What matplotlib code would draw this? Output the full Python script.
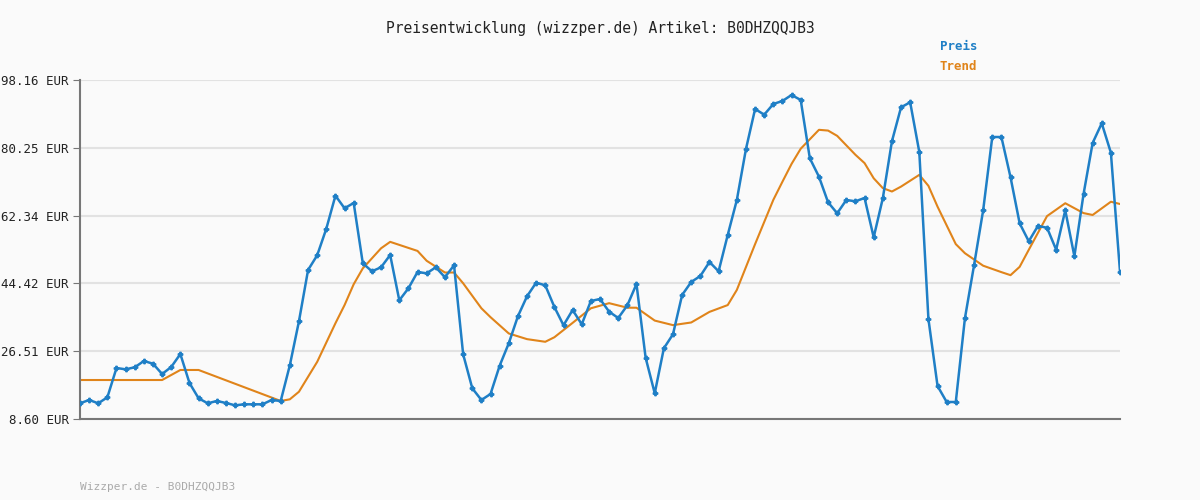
import matplotlib
matplotlib.use("Agg")
import matplotlib.pyplot as plt

TITLE = "Preisentwicklung (wizzper.de) Artikel: B0DHZQQJB3"
FOOTER = "Wizzper.de - B0DHZQQJB3"
Y_TICKS = [8.60, 26.51, 44.42, 62.34, 80.25, 98.16]

preis = [
    12.75, 13.62, 12.75, 14.33, 22.07, 21.73, 22.26, 23.92, 23.21, 20.49,
    22.34, 25.77, 18.11, 14.07, 12.75, 13.36, 12.83, 12.22, 12.48, 12.48,
    12.48, 13.62, 13.36, 22.79, 34.41, 47.97, 51.85, 58.88, 67.60, 64.27,
    65.67, 49.74, 47.62, 48.68, 51.93, 39.96, 43.13, 47.44, 47.09, 48.68,
    46.04, 49.21, 25.69, 16.71, 13.62, 15.21, 22.68, 28.60, 35.73, 41.02,
    44.61, 43.92, 38.19, 33.36, 37.40, 33.62, 39.78, 40.30, 36.95, 35.28,
    38.64, 44.27, 24.80, 15.39, 27.28, 30.98, 41.36, 44.80, 46.38, 50.08,
    47.62, 57.21, 66.46, 79.93, 90.50, 89.00, 91.82, 92.62, 94.20, 92.88,
    77.48, 72.62, 65.85, 62.95, 66.46, 66.12, 66.99, 56.60, 66.91, 81.97,
    90.95, 92.27, 79.14, 35.02, 17.32, 13.09, 13.09, 35.20, 49.21, 63.74,
    83.10, 83.10, 72.46, 60.30, 55.55, 59.59, 59.14, 53.33, 63.74, 51.59,
    67.97, 81.52, 86.72, 78.96, 47.52,
]

trend_idx = [0, 9, 11, 13, 22, 23, 24, 26, 28, 29, 30, 31, 33, 34, 37, 38, 40, 41,
             42, 44, 45, 47, 49, 51, 52, 54, 56, 58, 60, 61, 63, 65, 67, 69, 71, 72,
             74, 76, 77, 78, 79, 81, 82, 83, 85, 86, 87, 88, 89, 90, 92, 93, 94, 96, 97,
             99, 101, 102, 103, 104, 106, 108, 110, 111, 113, 114]
trend = [18.9, 18.9, 21.55, 21.55, 13.36, 13.8, 15.8, 23.7, 33.9, 38.7, 44.2, 48.4,
         53.7, 55.4, 53.0, 50.4, 47.3, 47.3, 44.45, 37.85, 35.5, 31.2, 29.7, 29.0,
         30.2, 34.0, 37.85, 39.2, 38.0, 38.0, 34.6, 33.4, 34.1, 36.9, 38.7, 42.7,
         54.8, 66.5, 71.3, 76.0, 80.0, 85.0, 84.8, 83.4, 78.4, 76.2, 72.2, 69.6, 68.7,
         70.0, 73.1, 70.2, 64.7, 54.8, 52.4, 49.1, 47.4, 46.6, 48.8, 53.3, 62.2,
         65.6, 63.0, 62.5, 66.0, 65.4]

BLUE, ORANGE = "#1f7fc6", "#e0841a"
MONO = "DejaVu Sans Mono"

fig = plt.figure(figsize=(12, 5), dpi=100, facecolor="#fafafa")
ax = fig.add_axes([80 / 1200, 81 / 500, 1040 / 1200, 339 / 500], facecolor="#fafafa")

ax.plot(range(len(preis)), preis, color=BLUE, lw=1.8, marker="P", ms=3.2, zorder=3)
ax.plot(trend_idx, trend, color=ORANGE, lw=1.5, zorder=2)

ax.set_xlim(0, len(preis) - 1)
ax.set_ylim(Y_TICKS[0], Y_TICKS[-1])
ax.set_yticks(Y_TICKS)
ax.set_yticklabels([f"{v:.2f} EUR" for v in Y_TICKS], family=MONO, fontsize=9, color="#222")
ax.set_xticks([])
ax.grid(True, axis="y", color="#e2e2e2", lw=1.5)
ax.set_axisbelow(True)
for s in ("top", "right"):
    ax.spines[s].set_visible(False)
for s in ("left", "bottom"):
    ax.spines[s].set_color("#777")
    ax.spines[s].set_linewidth(1.5)
ax.tick_params(axis="y", length=5, color="#777", pad=3)

fig.text(0.5, 1 - 28 / 500, TITLE, ha="center", va="center", family=MONO, fontsize=10.5, color="#222")
fig.text(940 / 1200, 1 - 47 / 500, "Preis", ha="left", va="center", family=MONO,
         fontsize=9, color=BLUE, weight="bold")
fig.text(940 / 1200, 1 - 67 / 500, "Trend", ha="left", va="center", family=MONO,
         fontsize=9, color=ORANGE, weight="bold")
fig.text(80 / 1200, 1 - 487 / 500, FOOTER, ha="left", va="center", family=MONO,
         fontsize=8, color="#aaa")

fig.savefig("out.png", dpi=100, facecolor="#fafafa")
